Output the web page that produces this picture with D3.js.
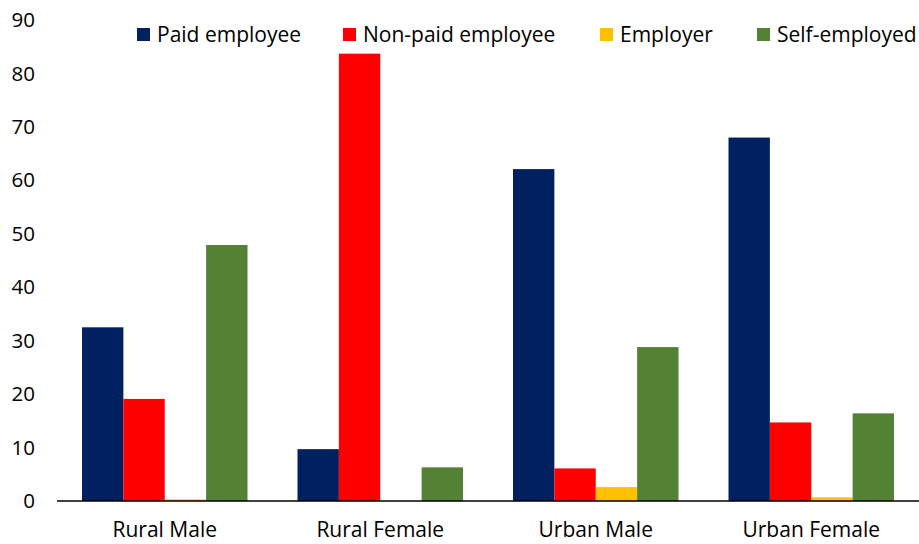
<!DOCTYPE html>
<html>
<head>
<meta charset="utf-8">
<script src="https://cdn.jsdelivr.net/npm/d3@7"></script>
<style>
  html, body { margin: 0; padding: 0; background: #fff; }
  svg { display: block; }
  text { font-family: "Open Sans", "Noto Sans", sans-serif; fill: #000; }
</style>
</head>
<body>
<svg id="chart" width="919" height="544"></svg>
<script>
const categories = ["Rural Male", "Rural Female", "Urban Male", "Urban Female"];
const seriesNames = ["Paid employee", "Non-paid employee", "Employer", "Self-employed"];
const paidEmployee = [32.5, 9.7, 62.1, 68.0];
const nonPaidEmployee = [19.1, 83.7, 6.1, 14.7];
const employer = [0.3, 0.0, 2.6, 0.7];
const selfEmployed = [47.9, 6.3, 28.8, 16.4];
const yTicks = [0, 10, 20, 30, 40, 50, 60, 70, 80, 90];
const colors = ["#002060", "#FF0000", "#FFC000", "#548235"];

const seriesValues = [paidEmployee, nonPaidEmployee, employer, selfEmployed];
const data = categories.map((c, i) => ({
  category: c,
  values: seriesNames.map((s, j) => ({ series: s, value: seriesValues[j][i] }))
}));

const svg = d3.select("#chart");
const margin = { left: 57, right: 0, top: 20, bottom: 43 };
const W = 919, H = 544;
const FS = 20.5;

const x0 = d3.scaleBand().domain(categories)
  .range([margin.left, W - margin.right]).paddingInner(0.232).paddingOuter(0.116);
const x1 = d3.scaleBand().domain(seriesNames).range([0, x0.bandwidth()]).padding(0);
const y = d3.scaleLinear().domain([0, 90]).range([H - margin.bottom, margin.top]);

// Bars
const g = svg.append("g");
g.selectAll("g.cat").data(data).join("g")
  .attr("class", "cat")
  .attr("transform", d => `translate(${x0(d.category)},0)`)
  .selectAll("rect").data(d => d.values).join("rect")
  .attr("x", d => x1(d.series))
  .attr("y", d => y(d.value))
  .attr("width", x1.bandwidth())
  .attr("height", d => y(0) - y(d.value))
  .attr("fill", (d, i) => colors[i]);

// Y axis labels
const yAxis = d3.axisLeft(y).tickValues(yTicks).tickSize(0).tickPadding(0);
const ya = svg.append("g").attr("transform", `translate(35,0)`).call(yAxis);
ya.select(".domain").remove();
ya.selectAll("text").attr("font-size", FS).attr("font-family", "'Open Sans', sans-serif").attr("fill", "#000");

// X axis
const xAxis = d3.axisBottom(x0).tickSize(0).tickPadding(21);
const xa = svg.append("g").attr("transform", `translate(0,${y(0)})`).call(xAxis);
xa.select(".domain").remove();
xa.selectAll("text").attr("font-size", FS + 0.5).attr("font-family", "'Open Sans', sans-serif").attr("fill", "#000");
svg.append("line")
  .attr("x1", margin.left).attr("x2", W)
  .attr("y1", y(0)).attr("y2", y(0))
  .attr("stroke", "#000").attr("stroke-width", 1.5);

// Legend
const legendX = [137, 343, 600, 757];
const lg = svg.append("g").selectAll("g").data(seriesNames).join("g")
  .attr("transform", (d, i) => `translate(${legendX[i]},28)`);
lg.append("rect").attr("width", 13).attr("height", 13).attr("fill", (d, i) => colors[i]);
lg.append("text").attr("x", 20).attr("y", 6.5).attr("dy", "0.35em")
  .attr("font-size", FS + 0.5).text(d => d);
</script>
</body>
</html>
